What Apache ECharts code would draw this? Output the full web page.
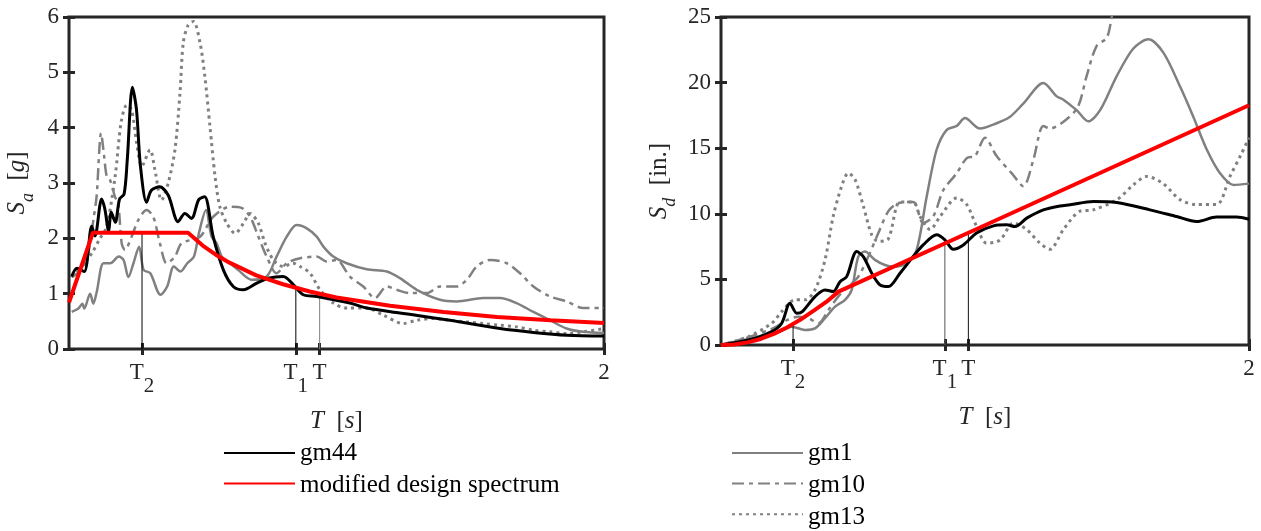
<!DOCTYPE html>
<html><head><meta charset="utf-8">
<script src="https://cdn.jsdelivr.net/npm/echarts@6/dist/echarts.min.js"></script>
<style>html,body{margin:0;padding:0;background:#fff;}#c{width:1261px;height:531px;}</style>
</head><body><div id="c"></div><script>
// ---------- data ----------
const xTickValues = [0.273, 0.848, 0.937, 2];
const xTickLabels = ['{m|T}{s|2}', '{m|T}{s|1}', '{m|T}', '{m|2}'];
const markerT = [0.273, 0.848, 0.937];
const markerSa = [2.1, 1.1, 1.0];
const markerSd = [1.6, 7.75, 8.55];
const legendLeft = ['gm44', 'modified design spectrum'];
const legendRight = ['gm1', 'gm10', 'gm13'];

// Left panel: Sa [g] vs T [s]
const sa_gm44 = [[0.01,1.31],[0.03,1.46],[0.057,1.40],[0.085,2.22],[0.097,2.04],[0.122,2.71],[0.134,2.53],[0.148,2.14],[0.158,2.47],[0.173,2.29],[0.189,2.71],[0.206,2.80],[0.218,3.43],[0.237,4.73],[0.252,4.34],[0.267,3.31],[0.29,2.65],[0.308,2.87],[0.339,2.93],[0.371,2.78],[0.408,2.30],[0.433,2.45],[0.458,2.36],[0.485,2.70],[0.507,2.75],[0.539,2.03],[0.577,1.43],[0.614,1.13],[0.652,1.07],[0.702,1.19],[0.745,1.28],[0.801,1.31],[0.839,1.16],[0.876,0.98],[0.926,0.95],[1.05,0.83],[1.113,0.74],[1.237,0.65],[1.424,0.52],[1.611,0.37],[1.736,0.30],[1.861,0.25],[2.0,0.235]];
const sa_gm1 = [[0.01,0.67],[0.035,0.73],[0.05,0.82],[0.057,0.73],[0.079,1.0],[0.091,0.82],[0.104,1.04],[0.129,1.55],[0.154,1.55],[0.186,1.67],[0.204,1.61],[0.222,1.30],[0.241,1.55],[0.262,1.85],[0.279,1.43],[0.304,1.37],[0.342,0.98],[0.367,1.13],[0.392,1.49],[0.417,1.40],[0.442,1.55],[0.467,1.67],[0.486,2.10],[0.512,2.51],[0.533,2.03],[0.552,1.91],[0.571,1.67],[0.602,1.55],[0.632,1.43],[0.683,1.25],[0.739,1.31],[0.776,1.67],[0.814,2.03],[0.851,2.24],[0.889,2.18],[0.926,2.03],[0.951,1.85],[0.988,1.67],[1.038,1.55],[1.113,1.44],[1.188,1.40],[1.237,1.28],[1.3,1.07],[1.387,0.89],[1.449,0.86],[1.549,0.92],[1.611,0.92],[1.673,0.83],[1.736,0.67],[1.798,0.52],[1.86,0.37],[1.922,0.31],[2.0,0.29]];
const sa_gm10 = [[0.01,1.3],[0.05,1.45],[0.075,1.8],[0.091,2.33],[0.103,2.75],[0.12,3.9],[0.131,3.5],[0.141,3.12],[0.153,3.06],[0.172,2.75],[0.184,2.63],[0.197,1.91],[0.209,1.79],[0.234,2.03],[0.259,2.33],[0.29,2.51],[0.315,2.39],[0.34,1.91],[0.365,1.55],[0.396,1.67],[0.421,1.91],[0.49,2.03],[0.539,2.39],[0.602,2.57],[0.645,2.55],[0.677,2.39],[0.708,2.03],[0.739,1.67],[0.776,1.37],[0.814,1.55],[0.864,1.64],[0.926,1.67],[0.963,1.58],[1.0,1.61],[1.05,1.31],[1.1,1.13],[1.144,0.92],[1.188,1.13],[1.225,1.07],[1.275,1.01],[1.337,1.01],[1.387,1.13],[1.449,1.13],[1.487,1.25],[1.524,1.49],[1.574,1.61],[1.636,1.55],[1.686,1.37],[1.736,1.13],[1.798,0.95],[1.86,0.86],[1.922,0.74],[2.0,0.74]];
const sa_gm13 = [[0.01,1.3],[0.05,1.5],[0.085,1.73],[0.116,2.0],[0.14,2.2],[0.172,3.1],[0.195,4.1],[0.216,4.41],[0.234,4.32],[0.253,3.72],[0.272,3.30],[0.303,3.6],[0.321,3.24],[0.346,2.69],[0.371,3.0],[0.396,3.6],[0.415,4.63],[0.427,5.53],[0.445,5.85],[0.465,5.92],[0.49,5.53],[0.508,4.92],[0.527,4.02],[0.546,3.12],[0.564,2.57],[0.59,2.27],[0.621,2.09],[0.652,2.27],[0.677,2.45],[0.708,2.27],[0.733,1.91],[0.764,1.61],[0.801,1.49],[0.838,1.55],[0.864,1.49],[0.901,1.37],[0.938,1.07],[0.988,0.83],[1.038,0.74],[1.113,0.74],[1.175,0.61],[1.25,0.46],[1.3,0.52],[1.362,0.55],[1.424,0.52],[1.487,0.49],[1.549,0.46],[1.611,0.43],[1.673,0.40],[1.736,0.34],[1.798,0.31],[1.86,0.28],[1.922,0.31],[2.0,0.37]];
const sa_design = [[0,0.84],[0.089,2.1],[0.445,2.1],[0.5,1.87],[0.55,1.70],[0.6,1.56],[0.7,1.33],[0.8,1.17],[0.9,1.04],[1.0,0.93],[1.2,0.78],[1.4,0.67],[1.6,0.58],[1.8,0.52],[2.0,0.47]];

// Right panel: Sd [in.] vs T [s]
const sd_gm44 = [[0,0],[0.104,0.38],[0.192,1.02],[0.23,1.66],[0.261,3.18],[0.287,2.42],[0.308,2.54],[0.356,3.69],[0.394,4.2],[0.425,4.07],[0.451,4.83],[0.476,5.21],[0.514,7.12],[0.539,6.74],[0.571,5.47],[0.602,4.58],[0.634,4.45],[0.678,5.47],[0.728,6.74],[0.766,7.63],[0.817,8.4],[0.848,8.02],[0.88,7.3],[0.918,7.63],[0.968,8.53],[1.032,9.08],[1.082,9.16],[1.114,9.03],[1.158,9.67],[1.221,10.3],[1.284,10.6],[1.322,10.69],[1.41,10.94],[1.499,10.86],[1.625,10.3],[1.726,9.79],[1.802,9.41],[1.877,9.75],[1.953,9.75],[2.0,9.59]];
const sd_gm1 = [[0,0],[0.104,0.45],[0.167,0.63],[0.23,1.1],[0.268,1.4],[0.318,1.15],[0.356,1.27],[0.394,2.04],[0.432,2.93],[0.47,3.44],[0.495,4.2],[0.52,6.74],[0.545,7.12],[0.583,6.49],[0.621,6.1],[0.653,5.98],[0.703,6.24],[0.741,7.25],[0.779,11.3],[0.817,14.9],[0.855,16.4],[0.893,16.7],[0.924,17.3],[0.981,16.5],[1.044,16.9],[1.095,17.4],[1.145,18.4],[1.221,19.97],[1.272,18.95],[1.297,18.7],[1.347,17.9],[1.391,17.05],[1.436,17.9],[1.499,20.5],[1.562,22.6],[1.619,23.3],[1.675,22.3],[1.739,19.7],[1.789,17.4],[1.84,14.9],[1.89,13.1],[1.941,12.2],[2.0,12.3]];
const sd_gm10 = [[0,0],[0.104,0.6],[0.2,1.3],[0.25,1.9],[0.293,2.16],[0.331,2.04],[0.369,1.65],[0.407,2.67],[0.444,3.69],[0.482,4.45],[0.52,5.21],[0.558,6.74],[0.596,8.53],[0.634,10.2],[0.67,10.8],[0.728,10.9],[0.766,9.3],[0.804,9.8],[0.842,11.8],[0.893,13.1],[0.931,14.25],[0.962,14.4],[1.0,15.8],[1.044,14.4],[1.101,13.1],[1.145,12.1],[1.183,14.1],[1.221,16.7],[1.246,16.5],[1.309,17.2],[1.353,18.2],[1.385,20.5],[1.423,22.8],[1.461,23.4],[1.48,25.0],[1.5,27.0]];
const sd_gm13 = [[0,0],[0.104,0.64],[0.192,1.65],[0.23,2.54],[0.28,3.44],[0.318,3.44],[0.356,4.2],[0.394,6.49],[0.425,9.8],[0.457,12.1],[0.482,13.1],[0.508,12.6],[0.539,10.6],[0.571,8.4],[0.596,7.9],[0.634,8.1],[0.678,10.9],[0.728,10.9],[0.754,9.8],[0.792,8.8],[0.83,9.8],[0.893,11.2],[0.931,10.7],[0.969,9.0],[1.006,7.76],[1.057,8.0],[1.107,9.3],[1.158,8.8],[1.208,7.76],[1.246,7.3],[1.297,8.8],[1.36,10.2],[1.41,10.3],[1.499,11.07],[1.562,12.2],[1.612,12.85],[1.675,12.3],[1.739,11.07],[1.802,10.7],[1.877,10.7],[1.928,12.85],[1.972,14.6],[2.0,15.8]];
const sd_design = [[0,0],[0.05,0.04],[0.1,0.2],[0.15,0.46],[0.2,0.85],[0.25,1.33],[0.3,1.92],[0.35,2.6],[0.4,3.3],[0.445,4.07],[1.0,9.13],[2.0,18.27]];

// ---------- styling ----------
const FONT = 'Liberation Serif';
const INK = '#262626';
const GRAY = '#808080';

const chart = echarts.init(document.getElementById('c'), null, {renderer: 'canvas'});

function tickFmt(v) {
  const i = xTickValues.findIndex(t => Math.abs(t - v) < 1e-6);
  return i >= 0 ? xTickLabels[i] : '';
}
const tickRich = {
  m: {fontFamily: FONT, fontSize: 23, lineHeight: 24, verticalAlign: 'top', color: INK},
  s: {fontFamily: FONT, fontSize: 21, lineHeight: 36, verticalAlign: 'bottom', color: INK}
};
const nameRich = {
  i: {fontFamily: FONT, fontStyle: 'italic', fontSize: 25, lineHeight: 28, verticalAlign: 'top', color: INK},
  n: {fontFamily: FONT, fontSize: 25, lineHeight: 28, verticalAlign: 'top', color: INK},
  b: {fontFamily: FONT, fontStyle: 'italic', fontSize: 18, lineHeight: 32, verticalAlign: 'bottom', color: INK}
};
const tickLine = {show: true, inside: true, length: 6, lineStyle: {color: INK, width: 3}};

function xAxes(gridIndex) {
  return [{
    type: 'value', gridIndex, position: 'bottom', min: 0, max: 2,
    axisLine: {show: false}, splitLine: {show: false},
    axisTick: Object.assign({customValues: xTickValues}, tickLine),
    axisLabel: {customValues: xTickValues, formatter: tickFmt, rich: tickRich, margin: 12},
    name: '{i|T}{n|  [}{i|s}{n|]}', nameLocation: 'middle', nameGap: 60,
    nameTextStyle: {rich: nameRich}
  }, {
    type: 'value', gridIndex, position: 'top', min: 0, max: 2,
    axisLine: {show: false}, splitLine: {show: false}, axisLabel: {show: false},
    axisTick: Object.assign({customValues: xTickValues}, tickLine)
  }];
}
function yAxes(gridIndex, max, interval, name, gap) {
  return [{
    type: 'value', gridIndex, position: 'left', min: 0, max, interval,
    axisLine: {show: false}, splitLine: {show: false}, axisTick: tickLine,
    axisLabel: {fontFamily: FONT, fontSize: 23, color: INK, margin: 10},
    name, nameLocation: 'middle', nameGap: gap, nameTextStyle: {rich: nameRich}
  }, {
    type: 'value', gridIndex, position: 'right', min: 0, max, interval,
    axisLine: {show: false}, splitLine: {show: false}, axisTick: tickLine,
    axisLabel: {show: false}
  }];
}

function curve(name, data, xi, color, width, type, smooth) {
  return {
    type: 'line', name, data, xAxisIndex: xi, yAxisIndex: xi,
    symbol: 'none', showSymbol: false, smooth: smooth ? 0.3 : false,
    lineStyle: {color, width, type: type || 'solid', cap: 'butt'},
    itemStyle: {color}, silent: true, animation: false, clip: true
  };
}
function markers(xi, heights, colors) {
  return markerT.map((t, k) => ({
    type: 'line', data: [[t, 0], [t, heights[k]]], xAxisIndex: xi, yAxisIndex: xi,
    symbol: 'none', lineStyle: {color: colors[k], width: 1}, silent: true, animation: false
  }));
}
const DASHDOT = [12, 5, 4, 5];
const DOT = [3, 4];

const series = [
  curve('gm1', sa_gm1, 0, GRAY, 2.5, 'solid', true),
  curve('gm10', sa_gm10, 0, GRAY, 2.5, DASHDOT, true),
  curve('gm13', sa_gm13, 0, GRAY, 3, DOT, true),
  ...markers(0, markerSa, ['#000', '#000', GRAY]),
  curve('gm44', sa_gm44, 0, '#000', 3, 'solid', true),
  curve('modified design spectrum', sa_design, 0, '#ff0000', 4, 'solid', false),
  curve('gm1', sd_gm1, 2, GRAY, 2.5, 'solid', true),
  curve('gm10', sd_gm10, 2, GRAY, 2.5, DASHDOT, true),
  curve('gm13', sd_gm13, 2, GRAY, 3, DOT, true),
  ...markers(2, markerSd, ['#111', '#555', '#111']),
  curve('gm44', sd_gm44, 2, '#000', 3, 'solid', true),
  curve('modified design spectrum', sd_design, 2, '#ff0000', 4, 'solid', false)
];

// legend: line samples from the legend component, labels as rich serif text beside them
const LEG_TOP = 446, ROW = 32;
const legendBase = {
  orient: 'vertical', top: LEG_TOP, itemWidth: 71, itemHeight: 14, itemGap: ROW - 14,
  selectedMode: false, padding: 0, formatter: () => '',
  itemStyle: {color: 'transparent', borderColor: 'transparent', borderWidth: 0, opacity: 0}
};
const legendRich = {l: {fontFamily: FONT, fontSize: 25, lineHeight: 28, color: '#000'}};
function legendLabels(names, x) {
  return names.map((n, k) => ({
    type: 'text', x, y: LEG_TOP + 7 + k * ROW, silent: true,
    style: {text: '{l|' + n + '}', rich: legendRich, fontFamily: FONT, fontSize: 25,
            fill: '#000', verticalAlign: 'middle', align: 'left'}
  }));
}

chart.setOption({
  animation: false,
  backgroundColor: '#fff',
  textStyle: {fontFamily: FONT},
  grid: [
    {left: 69, top: 17, width: 535, height: 332, show: true, borderColor: INK, borderWidth: 3, backgroundColor: 'transparent', containLabel: false, outerBoundsMode: 'none'},
    {left: 721, top: 17, width: 528, height: 328, show: true, borderColor: INK, borderWidth: 3, backgroundColor: 'transparent', containLabel: false, outerBoundsMode: 'none'}
  ],
  xAxis: [...xAxes(0), ...xAxes(1)],
  yAxis: [
    ...yAxes(0, 6, 1, '{i|S}{b|a}{n|  [}{i|g}{n|]}', 32),
    ...yAxes(1, 25, 5, '{i|S}{b|d}{n|  [in.]}', 42)
  ],
  legend: [
    Object.assign({}, legendBase, {left: 223, data: legendLeft}),
    Object.assign({}, legendBase, {left: 731, data: legendRight})
  ],
  graphic: [...legendLabels(legendLeft, 300), ...legendLabels(legendRight, 808)],
  series
});
</script></body></html>
